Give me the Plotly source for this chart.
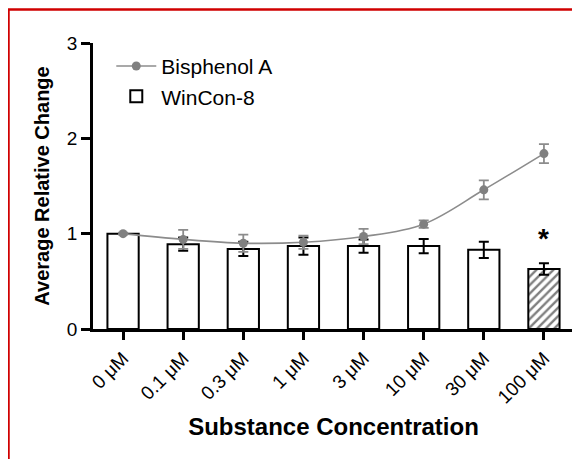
import plotly.graph_objects as go

categories = ["0 μM", "0.1 μM", "0.3 μM", "1 μM", "3 μM", "10 μM", "30 μM", "100 μM"]
wincon_values = [1.00, 0.89, 0.84, 0.87, 0.87, 0.87, 0.83, 0.63]
wincon_err = [0.0, 0.07, 0.075, 0.09, 0.07, 0.075, 0.085, 0.06]
bpa_values = [1.00, 0.94, 0.90, 0.91, 0.97, 1.10, 1.46, 1.84]
bpa_err = [0.01, 0.10, 0.09, 0.07, 0.08, 0.04, 0.10, 0.10]
patterns = ["", "", "", "", "", "", "", "/"]
y_ticks = [0, 1, 2, 3]
star_category = "100 μM"
star_value = 0.95

FONT = "Liberation Sans, Arial, sans-serif"

fig = go.Figure()
fig.add_trace(go.Bar(
    x=categories, y=wincon_values, name="WinCon-8",
    width=0.52,
    marker=dict(color="white", line=dict(color="black", width=2),
                pattern=dict(shape=patterns, fgcolor="black", bgcolor="white",
                             size=6, solidity=0.4)),
    error_y=dict(type="data", array=wincon_err, color="black", thickness=2, width=5),
))
fig.add_trace(go.Scatter(
    x=categories, y=bpa_values, name="Bisphenol A",
    mode="lines+markers",
    line=dict(color="#8c8c8c", width=1.6, shape="spline", smoothing=1),
    marker=dict(color="#808080", size=9),
    error_y=dict(type="data", array=bpa_err, color="#8c8c8c", thickness=1.8, width=5),
))

fig.add_annotation(x=star_category, y=star_value, text="*", showarrow=False,
                   font=dict(family=FONT, size=28, color="black", weight="bold"))

# red frame around the figure
fig.add_shape(type="rect", xref="paper", yref="paper",
              x0=-0.1757, x1=1.2, y0=-0.6, y1=1.117,
              line=dict(color="#d00000", width=2.5), fillcolor="rgba(0,0,0,0)",
              layer="below")

fig.update_layout(
    width=572, height=451,
    margin=dict(l=85, r=6, t=35, b=130),
    paper_bgcolor="white", plot_bgcolor="white",
    font=dict(family=FONT, size=20, color="black"),
    showlegend=True,
    legend=dict(x=0.038, y=0.99, xanchor="left", yanchor="top",
                traceorder="reversed", font=dict(size=21),
                bgcolor="rgba(0,0,0,0)", itemwidth=40, tracegroupgap=2),
    xaxis=dict(
        type="category", range=[-0.5, 7.5],
        showline=True, linecolor="black", linewidth=2.5,
        ticks="outside", ticklen=8, tickwidth=2.5, tickcolor="black",
        tickangle=-45, tickfont=dict(size=19),
        showgrid=False, zeroline=False,
        title=dict(text="Substance Concentration",
                   font=dict(size=24, weight="bold"), standoff=12),
    ),
    yaxis=dict(
        range=[0, 3], tickvals=y_ticks,
        showline=True, linecolor="black", linewidth=2.5,
        ticks="outside", ticklen=9, tickwidth=2.5, tickcolor="black",
        tickfont=dict(size=19),
        showgrid=False, zeroline=False,
        title=dict(text="Average Relative Change",
                   font=dict(size=20, weight="bold"), standoff=12),
    ),
)

fig.write_html("out.html")
